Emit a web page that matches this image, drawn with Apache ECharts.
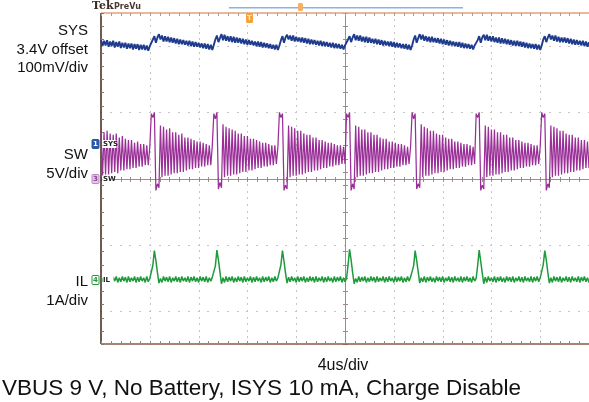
<!DOCTYPE html>
<html>
<head>
<meta charset="utf-8">
<script src="https://cdn.jsdelivr.net/npm/echarts@6/dist/echarts.min.js"></script>
<style>
  html, body { margin: 0; padding: 0; background: #ffffff; }
  #scope { width: 589px; height: 402px; }
</style>
</head>
<body>
<div id="scope"></div>
<script>
// Record: evenly spaced samples, 0.125 us apart, first sample 20 us before the trigger (screen centre)
const sampleStartUs = -20;
const sampleStepUs = 0.125;

// CH3 switch node, volts
const swVolts = [
  3.7,0.2,3.5,0.3,3.6,0.3,3.4,0.4,3.3,0.5,3.4,0.4,3.1,0.6,3.2,0.6,3.0,0.7,2.9,0.7,2.9,0.8,2.7,0.8,2.8,0.9,2.6,0.9,2.6,1.0,2.5,1.0,2.4,
  4.9,4.6,5.0,-0.9,-0.4,-0.7,
  4.0,0.1,3.9,0.2,3.7,0.2,3.8,0.3,3.5,0.4,3.5,0.4,3.3,0.5,3.4,0.5,3.1,0.6,3.1,0.7,3.0,0.7,2.9,0.8,2.8,0.8,2.8,0.9,2.7,0.9,2.6,1.0,2.5,1.0,2.5,
  4.9,4.5,5.0,-0.8,-0.3,-0.7,
  4.1,0.1,3.9,0.2,3.8,0.2,3.7,0.3,3.6,0.3,3.4,0.4,3.4,0.5,3.2,0.5,3.2,0.6,3.0,0.6,3.0,0.7,2.9,0.8,2.8,0.8,2.7,0.9,2.7,0.9,2.6,1.0,2.5,1.0,2.5,1.1,2.4,
  5.0,4.6,4.9,-0.9,-0.5,-0.8,
  4.0,0.1,3.9,0.2,3.8,0.2,3.6,0.3,3.6,0.3,3.4,0.4,3.3,0.5,3.3,0.5,3.1,0.6,3.1,0.6,2.9,0.7,2.9,0.8,2.8,0.8,2.7,0.9,2.7,0.9,2.6,1.0,2.5,1.0,2.5,1.1,2.4,1.1,
  4.9,4.6,5.0,-0.9,-0.4,-0.8,
  4.0,0.1,3.9,0.2,3.7,0.2,3.7,0.3,3.5,0.4,3.5,0.4,3.3,0.5,3.3,0.5,3.1,0.6,3.0,0.7,3.0,0.7,2.8,0.8,2.8,0.8,2.7,0.9,2.6,0.9,2.6,1.0,2.5,1.0,2.4,1.1,2.4,
  5.0,4.5,4.9,-0.8,-0.4,-0.7,
  4.1,0.1,3.9,0.2,3.8,0.2,3.6,0.3,3.6,0.4,3.4,0.4,3.3,0.5,3.3,0.5,3.1,0.6,3.0,0.7,3.0,0.7,2.8,0.8,2.8,0.8,2.7,0.9,2.6,0.9,2.6,1.0,2.5,1.0,2.4,1.1,
  4.9,4.6,5.0,-0.9,-0.5,-0.8,
  4.0,0.1,3.9,0.2,3.7,0.2,3.7,0.3,3.5,0.3,3.5,0.4,3.3,0.5,3.3,0.5,3.1,0.6,3.1,0.6,2.9,0.7,2.9,0.8,2.8,0.8,2.7,0.9,2.7,0.9,2.6,1.0,2.5,1.0,2.5,1.1,2.4,
  5.0,4.6,4.9,-0.9,-0.4,-0.7,
  4.0,0.1,3.9,0.2,3.8,0.2,3.6,0.3,3.6,0.4,3.4,0.4,3.3,0.5,3.3,0.5,3.1,0.6,3.1,0.6,2.9,0.7,2.9,0.8,2.8,0.8
];

// CH1 system rail, volts
const sysVolts = [
  3.557,3.548,3.556,3.549,3.557,3.547,3.555,3.548,3.556,3.546,3.554,3.547,3.555,3.545,3.553,3.546,3.553,3.544,3.552,3.545,3.552,3.543,3.551,3.544,3.551,3.542,3.550,3.543,3.550,3.542,3.549,3.541,3.548,
  3.549,3.558,3.563,3.553,3.561,3.566,
  3.558,3.564,3.555,3.563,3.555,3.562,3.554,3.561,3.553,3.560,3.552,3.559,3.551,3.558,3.551,3.557,3.550,3.556,3.549,3.556,3.548,3.555,3.547,3.554,3.547,3.553,3.546,3.552,3.545,3.552,3.544,3.551,3.543,3.550,3.542,
  3.550,3.558,3.564,3.554,3.560,3.566,
  3.557,3.565,3.556,3.563,3.555,3.563,3.554,3.562,3.553,3.561,3.553,3.560,3.552,3.559,3.551,3.558,3.550,3.557,3.550,3.556,3.549,3.555,3.548,3.555,3.547,3.554,3.546,3.553,3.546,3.552,3.545,3.551,3.544,3.550,3.543,3.550,3.542,
  3.549,3.557,3.563,3.553,3.561,3.565,
  3.558,3.564,3.556,3.564,3.555,3.562,3.555,3.561,3.554,3.561,3.553,3.560,3.552,3.559,3.551,3.558,3.551,3.557,3.550,3.556,3.549,3.556,3.548,3.555,3.548,3.554,3.547,3.553,3.546,3.553,3.545,3.552,3.545,3.551,3.544,3.550,3.543,3.549,
  3.550,3.558,3.563,3.554,3.561,3.566,
  3.557,3.564,3.556,3.564,3.555,3.562,3.554,3.562,3.553,3.561,3.553,3.559,3.552,3.559,3.551,3.558,3.550,3.557,3.549,3.556,3.549,3.555,3.548,3.555,3.547,3.554,3.546,3.553,3.546,3.552,3.545,3.551,3.544,3.551,3.543,3.550,3.542,
  3.549,3.558,3.564,3.553,3.560,3.566,
  3.558,3.565,3.556,3.563,3.555,3.562,3.554,3.562,3.554,3.560,3.553,3.560,3.552,3.559,3.551,3.558,3.550,3.557,3.549,3.556,3.549,3.555,3.548,3.554,3.547,3.554,3.546,3.553,3.545,3.552,3.545,3.551,3.544,3.550,3.543,3.549,
  3.550,3.557,3.563,3.553,3.561,3.565,
  3.557,3.565,3.556,3.563,3.555,3.563,3.554,3.561,3.553,3.561,3.552,3.560,3.552,3.559,3.551,3.558,3.550,3.557,3.549,3.556,3.548,3.556,3.548,3.555,3.547,3.554,3.546,3.553,3.545,3.552,3.545,3.551,3.544,3.551,3.543,3.550,3.542,
  3.549,3.558,3.563,3.554,3.561,3.566,
  3.558,3.564,3.556,3.564,3.555,3.562,3.554,3.561,3.554,3.561,3.553,3.560,3.552,3.559,3.551,3.558,3.550,3.557,3.550,3.556,3.549,3.556,3.548,3.555,3.547,3.554
];

// CH4 inductor current, amps
const ilAmps = [
  0.04,-0.03,0.05,-0.02,0.03,-0.04,0.05,-0.03,0.04,-0.02,0.05,-0.04,0.03,-0.03,0.05,-0.02,0.04,-0.04,0.05,-0.03,0.03,-0.02,0.05,-0.04,0.04,-0.03,0.05,-0.02,0.03,-0.04,0.05,-0.03,0.02,
  0.03,0.22,0.44,0.29,0.11,-0.05,
  0.02,-0.04,0.05,-0.02,0.04,-0.03,0.05,-0.04,0.03,-0.02,0.05,-0.03,0.04,-0.04,0.05,-0.02,0.03,-0.03,0.05,-0.04,0.04,-0.02,0.05,-0.03,0.03,-0.04,0.05,-0.02,0.04,-0.03,0.05,-0.04,0.03,-0.02,0.04,
  0.02,0.21,0.45,0.30,0.12,-0.06,
  0.03,-0.04,0.05,-0.03,0.04,-0.02,0.05,-0.04,0.03,-0.03,0.05,-0.02,0.04,-0.04,0.05,-0.03,0.03,-0.02,0.05,-0.04,0.04,-0.03,0.05,-0.02,0.03,-0.04,0.05,-0.03,0.04,-0.02,0.05,-0.04,0.03,-0.03,0.05,-0.02,0.03,
  0.03,0.23,0.44,0.28,0.10,-0.05,
  0.04,-0.03,0.05,-0.02,0.03,-0.04,0.05,-0.03,0.04,-0.02,0.05,-0.04,0.03,-0.03,0.05,-0.02,0.04,-0.04,0.05,-0.03,0.03,-0.02,0.05,-0.04,0.04,-0.03,0.05,-0.02,0.03,-0.04,0.05,-0.03,0.04,-0.02,0.05,-0.04,0.03,-0.03,
  0.02,0.22,0.46,0.30,0.11,-0.06,
  0.02,-0.04,0.05,-0.03,0.04,-0.02,0.05,-0.04,0.03,-0.03,0.05,-0.02,0.04,-0.04,0.05,-0.03,0.03,-0.02,0.05,-0.04,0.04,-0.03,0.05,-0.02,0.03,-0.04,0.05,-0.03,0.04,-0.02,0.05,-0.04,0.03,-0.03,0.05,-0.02,0.04,
  0.03,0.21,0.44,0.29,0.12,-0.05,
  0.03,-0.03,0.05,-0.04,0.04,-0.02,0.05,-0.03,0.03,-0.04,0.05,-0.02,0.04,-0.03,0.05,-0.04,0.03,-0.02,0.05,-0.03,0.04,-0.04,0.05,-0.02,0.03,-0.03,0.05,-0.04,0.04,-0.02,0.05,-0.03,0.03,-0.04,0.05,-0.02,
  0.02,0.22,0.45,0.28,0.10,-0.06,
  0.04,-0.04,0.05,-0.02,0.03,-0.03,0.05,-0.04,0.04,-0.02,0.05,-0.03,0.03,-0.04,0.05,-0.02,0.04,-0.03,0.05,-0.04,0.03,-0.02,0.05,-0.03,0.04,-0.04,0.05,-0.02,0.03,-0.03,0.05,-0.04,0.04,-0.02,0.05,-0.03,0.03,
  0.03,0.23,0.44,0.30,0.11,-0.05,
  0.03,-0.04,0.05,-0.02,0.04,-0.03,0.05,-0.04,0.03,-0.02,0.05,-0.03,0.04,-0.04,0.05,-0.02,0.03,-0.03,0.05,-0.04,0.04,-0.02,0.05,-0.03,0.03,-0.04
];

if (swVolts.length !== sysVolts.length || swVolts.length !== ilAmps.length) {
  throw new Error('record length mismatch: ' + [swVolts.length, sysVolts.length, ilAmps.length].join('/'));
}

// Vertical setup per channel: units per division, offset, and marker height (divisions above centre)
const chNames   = ['SYS', 'SW', 'IL'];
const chPerDiv  = [0.1, 5, 1];
const chOffset  = [3.4, 0, 0];
const chMarker  = [0.52, 0, -1.53];
const chColor   = ['#1f3b8e', '#9a2f98', '#1f9a3a'];

// Side annotations, one block per channel
const sideLabels = [
  ['SYS', '3.4V offset', '100mV/div'],
  ['SW', '5V/div'],
  ['IL', '1A/div']
];
const timebaseText = '4us/div';
const captionText = 'VBUS 9 V, No Battery, ISYS 10 mA, Charge Disable';

const HALF_DIVS_Y = 2.5;   // visible: 5 vertical divisions
const HALF_SPAN_US = 20;   // 10 horizontal divisions of 4 us

function toPairs(values) {
  return values.map((v, i) => [sampleStartUs + i * sampleStepUs, v]);
}

function channelAxis(ch) {
  return {
    type: 'value',
    show: false,
    min: chOffset[ch] + (-HALF_DIVS_Y - chMarker[ch]) * chPerDiv[ch],
    max: chOffset[ch] + (HALF_DIVS_Y - chMarker[ch]) * chPerDiv[ch]
  };
}

// Graticule: dotted division lines, centre cross with minor ticks, framed edges
function drawGraticule(params, api) {
  const kids = [];
  const at = (t, d) => api.coord([t, d]);
  const dot = '#c4c4c4';
  const cross = '#9c8c86';
  const px = (p) => Math.round(p);

  const minorT = [];
  for (let k = 0; k <= 50; k++) minorT.push(-HALF_SPAN_US + k * 0.8);
  const minorD = [];
  for (let k = 0; k <= 25; k++) minorD.push(-HALF_DIVS_Y + k * 0.2);
  const fineD = [];
  for (let k = 0; k <= 50; k++) fineD.push(-HALF_DIVS_Y + k * 0.1);

  [-2, -1, 1, 2].forEach(d => {
    minorT.forEach(t => {
      const p = at(t, d);
      kids.push({ type: 'rect', shape: { x: px(p[0]) - 1, y: px(p[1]), width: 2, height: 1 }, style: { fill: dot } });
    });
  });
  [-16, -12, -8, -4, 4, 8, 12, 16].forEach(t => {
    fineD.forEach(d => {
      const p = at(t, d);
      kids.push({ type: 'rect', shape: { x: px(p[0]), y: px(p[1]) - 1, width: 1, height: 2 }, style: { fill: dot } });
    });
  });

  // centre cross
  const l = at(-HALF_SPAN_US, 0), r = at(HALF_SPAN_US, 0);
  const tp = at(0, HALF_DIVS_Y), bt = at(0, -HALF_DIVS_Y);
  kids.push({ type: 'line', shape: { x1: l[0], y1: px(l[1]) + 0.5, x2: r[0], y2: px(r[1]) + 0.5 }, style: { stroke: cross, lineWidth: 1 } });
  kids.push({ type: 'line', shape: { x1: px(tp[0]) + 0.5, y1: tp[1], x2: px(bt[0]) + 0.5, y2: bt[1] }, style: { stroke: cross, lineWidth: 1 } });
  minorT.forEach(t => {
    const p = at(t, 0);
    kids.push({ type: 'line', shape: { x1: px(p[0]) + 0.5, y1: px(p[1]) - 2, x2: px(p[0]) + 0.5, y2: px(p[1]) + 3 }, style: { stroke: cross, lineWidth: 1 } });
  });
  minorD.forEach(d => {
    const p = at(0, d);
    kids.push({ type: 'line', shape: { x1: px(p[0]) - 2, y1: px(p[1]) + 0.5, x2: px(p[0]) + 3, y2: px(p[1]) + 0.5 }, style: { stroke: cross, lineWidth: 1 } });
  });

  // frame edges with inward ticks
  const tl = at(-HALF_SPAN_US, HALF_DIVS_Y), tr = at(HALF_SPAN_US, HALF_DIVS_Y);
  const bl = at(-HALF_SPAN_US, -HALF_DIVS_Y), br = at(HALF_SPAN_US, -HALF_DIVS_Y);
  kids.push({ type: 'line', shape: { x1: tl[0], y1: tl[1], x2: tr[0], y2: tr[1] }, style: { stroke: '#e0a27c', lineWidth: 1.6 } });
  kids.push({ type: 'line', shape: { x1: bl[0], y1: bl[1], x2: br[0], y2: br[1] }, style: { stroke: '#8a5a46', lineWidth: 1.6 } });
  kids.push({ type: 'line', shape: { x1: tl[0], y1: tl[1], x2: bl[0], y2: bl[1] }, style: { stroke: '#4a3226', lineWidth: 1.6 } });
  minorT.forEach(t => {
    const a = at(t, HALF_DIVS_Y), b = at(t, -HALF_DIVS_Y);
    kids.push({ type: 'line', shape: { x1: px(a[0]) + 0.5, y1: a[1], x2: px(a[0]) + 0.5, y2: a[1] + 3 }, style: { stroke: '#b09a90', lineWidth: 1 } });
    kids.push({ type: 'line', shape: { x1: px(b[0]) + 0.5, y1: b[1], x2: px(b[0]) + 0.5, y2: b[1] - 3 }, style: { stroke: '#9c8478', lineWidth: 1 } });
  });
  minorD.forEach(d => {
    const p = at(-HALF_SPAN_US, d);
    kids.push({ type: 'line', shape: { x1: p[0], y1: px(p[1]) + 0.5, x2: p[0] + 3, y2: px(p[1]) + 0.5 }, style: { stroke: '#8c7468', lineWidth: 1 } });
  });

  return { type: 'group', children: kids };
}

const GRID = { left: 101, top: 13, width: 490, height: 331 };
const centreY = GRID.top + GRID.height / 2;
const divPx = GRID.height / (2 * HALF_DIVS_Y);

function markerY(ch) { return centreY - chMarker[ch] * divPx; }

function textEl(text, x, y, font, fill, align, vAlign) {
  return {
    type: 'text', x: x, y: y, silent: true,
    style: { text: text, font: font, fill: fill, align: align, verticalAlign: vAlign, textAlign: align, textVerticalAlign: vAlign }
  };
}

const graphics = [];

// Side annotations
const sideTop = [31, 155, 282];
sideLabels.forEach((lines, g) => {
  lines.forEach((s, j) => {
    graphics.push(textEl(s, 88, sideTop[g] + j * 18.5, '15px "Liberation Sans", Arial, sans-serif', '#111111', 'right', 'middle'));
  });
});

// Channel reference markers on the left edge
const markerStyle = [
  { n: '1', box: '#2b58a6', num: '#ffffff', stroke: '#2b58a6' },
  { n: '3', box: '#e6c8ec', num: '#8a3c92', stroke: '#b78ac0' },
  { n: '4', box: '#ffffff', num: '#23993b', stroke: '#23993b' }
];
[0, 1, 2].forEach(ch => {
  const y = markerY(ch);
  const m = markerStyle[ch];
  graphics.push({ type: 'rect', silent: true, z: 20, shape: { x: 92, y: Math.round(y) - 4.5, width: 7, height: 9, r: 1 },
    style: { fill: m.box, stroke: m.stroke, lineWidth: 1 } });
  graphics.push(Object.assign(textEl(m.n, 95.5, Math.round(y) + 0.5, 'bold 7px "DejaVu Sans", sans-serif', m.num, 'center', 'middle'), { z: 21 }));
  graphics.push({ type: 'rect', silent: true, z: 20, shape: { x: 102.5, y: Math.round(y) - 4, width: ch === 0 ? 14 : 11, height: 8 },
    style: { fill: '#ffffff' } });
  graphics.push(Object.assign(textEl(chNames[ch], 103, Math.round(y) + 0.5, 'bold 7px "DejaVu Sans", sans-serif', '#222222', 'left', 'middle'), { z: 21 }));
});

// Header strip: brand, record-view bar and position markers
graphics.push(textEl('Tek', 92, 6, 'bold 11px "DejaVu Serif", serif', '#3a2a22', 'left', 'middle'));
graphics.push(textEl('PreVu', 114, 6.5, 'bold 8px "DejaVu Sans", sans-serif', '#4a3a30', 'left', 'middle'));
graphics.push({ type: 'rect', silent: true, shape: { x: 229, y: 7, width: 234, height: 1.4 }, style: { fill: '#86b4ea' } });
graphics.push({ type: 'rect', silent: true, z: 22, shape: { x: 246, y: 13, width: 7, height: 10, r: 1.5 }, style: { fill: '#f2a33c' } });
graphics.push(Object.assign(textEl('T', 249.5, 18.5, 'bold 7px "DejaVu Sans", sans-serif', '#fbe3b8', 'center', 'middle'), { z: 23 }));
graphics.push({ type: 'rect', silent: true, z: 22, shape: { x: 298, y: 3, width: 5, height: 8, r: 1.5 }, style: { fill: '#f2b060' } });

// Timebase and caption
graphics.push(textEl(timebaseText, 343, 366, '16px "Liberation Sans", Arial, sans-serif', '#111111', 'center', 'middle'));
graphics.push(textEl(captionText, 2, 389, '22.5px "Liberation Sans", Arial, sans-serif', '#111111', 'left', 'middle'));

const chart = echarts.init(document.getElementById('scope'), null, { renderer: 'canvas' });
chart.setOption({
  animation: false,
  backgroundColor: '#ffffff',
  grid: GRID,
  xAxis: { type: 'value', show: false, min: -HALF_SPAN_US, max: HALF_SPAN_US },
  yAxis: [channelAxis(0), channelAxis(1), channelAxis(2),
          { type: 'value', show: false, min: -HALF_DIVS_Y, max: HALF_DIVS_Y }],
  graphic: graphics,
  series: [
    { type: 'custom', yAxisIndex: 3, silent: true, z: 1, data: [[0, 0]], renderItem: drawGraticule },
    { name: 'IL', type: 'line', yAxisIndex: 2, z: 3, data: toPairs(ilAmps), showSymbol: false,
      lineStyle: { color: chColor[2], width: 1.5 } },
    { name: 'SW', type: 'line', yAxisIndex: 1, z: 4, data: toPairs(swVolts), showSymbol: false,
      lineStyle: { color: chColor[1], width: 1.25 } },
    { name: 'SYS', type: 'line', yAxisIndex: 0, z: 5, data: toPairs(sysVolts), showSymbol: false,
      lineStyle: { color: chColor[0], width: 1.9 } }
  ]
});
</script>
</body>
</html>
